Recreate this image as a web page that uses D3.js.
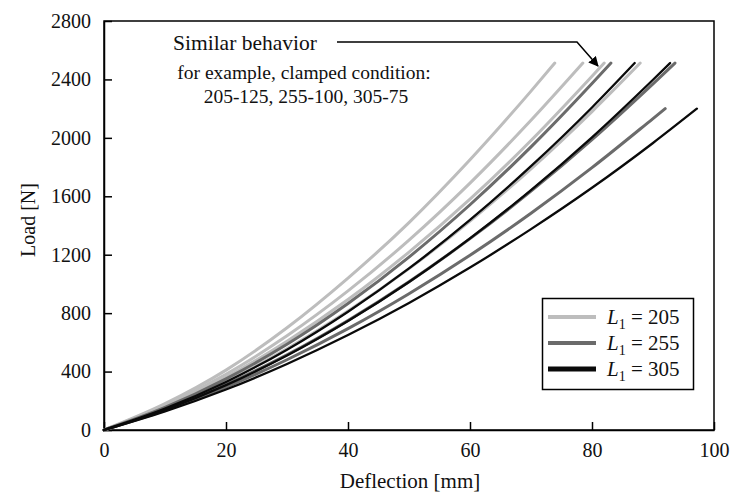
<!DOCTYPE html>
<html>
<head>
<meta charset="utf-8">
<script src="https://cdn.jsdelivr.net/npm/d3@7"></script>
<style>
  body { margin: 0; background: #fff; }
  svg text { font-family: "Liberation Serif", "Times New Roman", serif; fill: #111; }
  .axis path, .axis line { stroke: #000; stroke-width: 1.5; }
  .axis text { font-size: 20px; }
</style>
</head>
<body>
<div class="chart-container"></div>
<script>
/*******************************/
/*            Data             */
/*******************************/

var x_ticks = [0, 20, 40, 60, 80, 100];
var y_ticks = [0, 400, 800, 1200, 1600, 2000, 2400, 2800];

// deflection [mm] of the points read for each curve (every 10 mm)
var deflection_grid = [0, 10, 20, 30, 40, 50, 60, 70, 80, 90];

// L1 of each curve, in drawing order
var curve_l1 = [205, 205, 205, 205, 255, 255, 255, 305, 305, 305];

// last point of each curve
var end_deflection = [73.9, 78.5, 82.0, 87.9, 83.1, 93.6, 92.0, 87.0, 92.8, 97.2];
var end_load       = [2512, 2512, 2512, 2512, 2512, 2512, 2200, 2512, 2512, 2200];

// load [N] at the deflection grid
var loads = [
  [0, 180, 410, 700, 1040, 1420, 1850, 2320],
  [0, 168, 382, 645, 952, 1300, 1690, 2120],
  [0, 160, 362, 608, 893, 1218, 1580, 1982, 2422],
  [0, 150, 335, 556, 814, 1105, 1430, 1788, 2180],
  [0, 154, 350, 587, 866, 1184, 1542, 1938, 2372],
  [0, 140, 312, 515, 750, 1015, 1310, 1635, 1988, 2370],
  [0, 134, 294, 481, 694, 933, 1196, 1484, 1796, 2132],
  [0, 146, 329, 550, 810, 1106, 1438, 1806, 2208],
  [0, 137, 307, 510, 746, 1013, 1312, 1642, 2004, 2398],
  [0, 127, 277, 452, 650, 870, 1112, 1375, 1658, 1965]
];

var legend_l1 = [205, 255, 305];
var colors = { 205: "#bdbdbd", 255: "#6b6b6b", 305: "#0a0a0a" };

/*******************************/
/*      Chart preparation      */
/*******************************/

var width = 735,
    height = 497;

var svg = d3.select(".chart-container").append("svg")
  .attr("width", width)
  .attr("height", height);

var x = d3.scaleLinear().domain([0, 100]).range([104, 714]);
var y = d3.scaleLinear().domain([0, 2800]).range([430, 21]);

// axes with inner ticks
svg.append("g")
  .attr("class", "axis")
  .attr("transform", "translate(0," + y(0) + ")")
  .call(d3.axisBottom(x).tickValues(x_ticks).tickFormat(d3.format("d"))
    .tickSizeInner(-8).tickSizeOuter(0).tickPadding(13));

svg.append("g")
  .attr("class", "axis")
  .attr("transform", "translate(" + x(0) + ",0)")
  .call(d3.axisLeft(y).tickValues(y_ticks).tickFormat(d3.format("d"))
    .tickSizeInner(-8).tickSizeOuter(0).tickPadding(13));

// frame
svg.append("rect")
  .attr("x", x(0))
  .attr("y", y(2800))
  .attr("width", x(100) - x(0))
  .attr("height", y(0) - y(2800))
  .attr("fill", "none")
  .attr("stroke", "#000")
  .attr("stroke-width", 1.5);

// axis titles
svg.append("text")
  .attr("x", 410)
  .attr("y", 488)
  .attr("text-anchor", "middle")
  .style("font-size", "21px")
  .text("Deflection  [mm]");

svg.append("text")
  .attr("transform", "translate(35,220) rotate(-90)")
  .attr("text-anchor", "middle")
  .style("font-size", "20px")
  .text("Load [N]");

/*******************************/
/*           Curves            */
/*******************************/

var line = d3.line()
  .x(function(d) { return x(d[0]); })
  .y(function(d) { return y(d[1]); })
  .curve(d3.curveMonotoneX);

loads.forEach(function(arr, i) {
  var pts = arr.map(function(v, j) { return [deflection_grid[j], v]; });
  pts.push([end_deflection[i], end_load[i]]);

  svg.append("path")
    .datum(pts)
    .attr("d", line)
    .attr("fill", "none")
    .attr("stroke", colors[curve_l1[i]])
    .attr("stroke-width", curve_l1[i] == 305 ? 2.3 : 3)
    .attr("stroke-linecap", "round");
});

/*******************************/
/*         Annotation          */
/*******************************/

svg.append("defs").append("marker")
  .attr("id", "arrow")
  .attr("viewBox", "0 0 10 10")
  .attr("refX", 9)
  .attr("refY", 5)
  .attr("markerWidth", 10)
  .attr("markerHeight", 10)
  .attr("markerUnits", "userSpaceOnUse")
  .attr("orient", "auto")
  .append("path")
  .attr("d", "M0,0 L10,5 L0,10 z")
  .attr("fill", "#000");

svg.append("text")
  .attr("x", 173)
  .attr("y", 50)
  .style("font-size", "21.5px")
  .text("Similar behavior");

svg.append("path")
  .attr("d", "M337,42 L577,42 L598,66")
  .attr("fill", "none")
  .attr("stroke", "#000")
  .attr("stroke-width", 1.5)
  .attr("marker-end", "url(#arrow)");

svg.append("text")
  .attr("x", 304)
  .attr("y", 79)
  .attr("text-anchor", "middle")
  .style("font-size", "19.5px")
  .text("for example, clamped condition:");

svg.append("text")
  .attr("x", 306)
  .attr("y", 103)
  .attr("text-anchor", "middle")
  .style("font-size", "19.5px")
  .text("205-125, 255-100, 305-75");

/*******************************/
/*           Legend            */
/*******************************/

svg.append("rect")
  .attr("x", 542.5)
  .attr("y", 298.5)
  .attr("width", 151)
  .attr("height", 91)
  .attr("fill", "#fff")
  .attr("stroke", "#000")
  .attr("stroke-width", 1.5);

var legend = svg.selectAll(".legend-item")
  .data(legend_l1)
  .enter()
  .append("g")
  .attr("class", "legend-item")
  .attr("transform", function(d, i) { return "translate(0," + (317 + i * 26) + ")"; });

legend.append("line")
  .attr("x1", 548)
  .attr("x2", 596)
  .attr("stroke", function(d) { return colors[d]; })
  .attr("stroke-width", function(d) { return d == 305 ? 5 : 4; });

var legend_text = legend.append("text")
  .attr("x", 607)
  .attr("y", 7)
  .style("font-size", "21px");

legend_text.append("tspan").style("font-style", "italic").text("L");
legend_text.append("tspan").attr("dy", 5).style("font-size", "14px").text("1");
legend_text.append("tspan").attr("dy", -5).text(function(d) { return " = " + d; });
</script>
</body>
</html>
